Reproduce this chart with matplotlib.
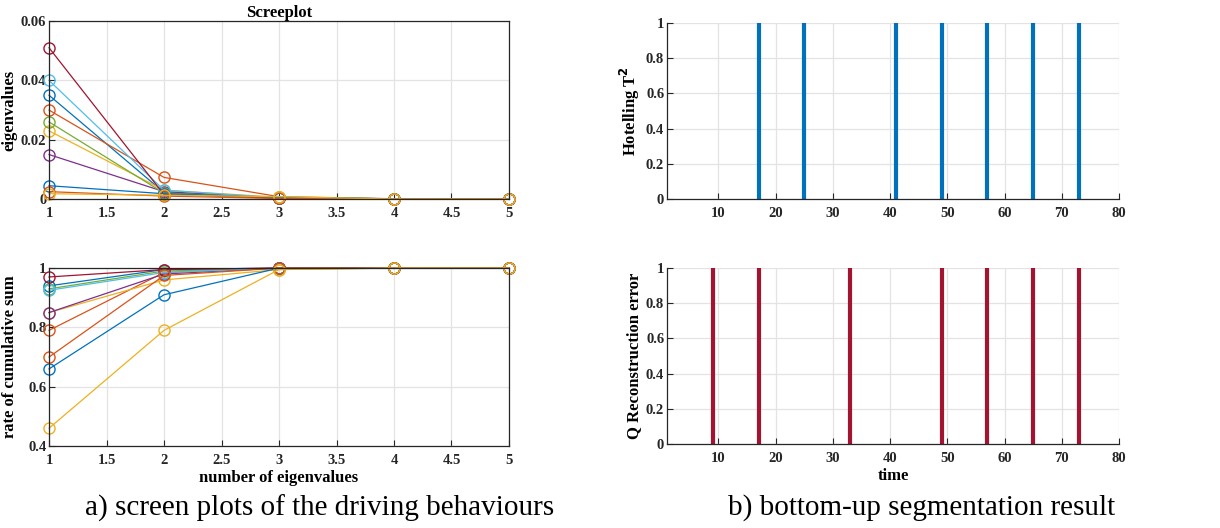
import numpy as np
import matplotlib
matplotlib.use('Agg')
import matplotlib.pyplot as plt
from matplotlib.ticker import FuncFormatter

# number of eigenvalues on the x axis of the scree plots
n_eig = [1, 2, 3, 4, 5]

# eigenvalues of each driving behaviour
eig_vals = [
    [0.0350, 0.0022, 0.0003, 0.00005, 0.0],
    [0.0300, 0.0073, 0.0008, 0.0001, 0.0],
    [0.0230, 0.0030, 0.0006, 0.0001, 0.0],
    [0.0150, 0.0025, 0.0004, 0.0001, 0.0],
    [0.0260, 0.0020, 0.0004, 0.0001, 0.0],
    [0.0400, 0.0030, 0.0004, 0.0001, 0.0],
    [0.0510, 0.0015, 0.0003, 0.0001, 0.0],
    [0.0045, 0.0018, 0.0005, 0.0001, 0.0],
    [0.0025, 0.0010, 0.0002, 0.0, 0.0],
    [0.0018, 0.0013, 0.0008, 0.0, 0.0],
]

# rate of cumulative sum for the same behaviours
cum_rate = [
    [0.94, 0.995, 1.0, 1.0, 1.0],
    [0.79, 0.985, 1.0, 1.0, 1.0],
    [0.85, 0.96, 0.995, 1.0, 1.0],
    [0.85, 0.98, 1.0, 1.0, 1.0],
    [0.93, 0.99, 1.0, 1.0, 1.0],
    [0.925, 0.985, 1.0, 1.0, 1.0],
    [0.97, 0.995, 1.0, 1.0, 1.0],
    [0.66, 0.91, 1.0, 1.0, 1.0],
    [0.70, 0.975, 1.0, 1.0, 1.0],
    [0.46, 0.79, 0.995, 1.0, 1.0],
]

# segmentation points
t2_times = [17, 25, 41, 49, 57, 65, 73]
t2_vals = [1, 1, 1, 1, 1, 1, 1]
q_times = [9, 17, 33, 49, 57, 65, 73]
q_vals = [1, 1, 1, 1, 1, 1, 1]

# matlab default colour order
mcolors = ['#0072BD', '#D95319', '#EDB120', '#7E2F8E', '#77AC30',
           '#4DBEEE', '#A2142F']

plt.rcParams['font.family'] = 'Liberation Serif'
plt.rcParams['font.weight'] = 'bold'
plt.rcParams['font.size'] = 12
axcol = '#262626'
fs = 12
tfs = 10.5

fig = plt.figure(figsize=(12.2, 5.28), dpi=100)

fmt = FuncFormatter(lambda v, p: '%g' % v)


def style(ax, box=True):
    ax.grid(True, color='#e3e3e3', linewidth=0.9)
    ax.set_axisbelow(True)
    ax.tick_params(direction='in', length=4, colors=axcol, labelsize=tfs)
    ax.tick_params(axis='y', pad=2)
    ax.tick_params(axis='x', pad=6)
    for s in ax.spines.values():
        s.set_color(axcol)
        s.set_linewidth(0.9)
    if not box:
        ax.spines['top'].set_visible(False)
        ax.spines['right'].set_visible(False)
    ax.yaxis.set_major_formatter(fmt)
    ax.xaxis.set_major_formatter(fmt)


# scree plot
ax1 = fig.add_axes([0.0402, 0.623, 0.377, 0.337])
for i, ev in enumerate(eig_vals):
    ax1.plot(n_eig, ev, '-o', color=mcolors[i % 7], lw=0.9, ms=8,
             mfc='none', mew=1.0, clip_on=False)
ax1.set_xlim(1, 5)
ax1.set_ylim(0, 0.06)
ax1.set_xticks(np.arange(1, 5.01, 0.5))
ax1.set_yticks([0, 0.02, 0.04, 0.06])
style(ax1)
ax1.set_title('Screeplot', fontsize=fs, fontweight='bold', pad=3)
ax1.set_ylabel('eigenvalues', fontsize=fs, fontweight='bold')
ax1.yaxis.set_label_coords(-0.068, 0.5)

# cumulative sum
ax2 = fig.add_axes([0.0402, 0.1553, 0.377, 0.337])
for i, cr in enumerate(cum_rate):
    ax2.plot(n_eig, cr, '-o', color=mcolors[i % 7], lw=0.9, ms=8,
             mfc='none', mew=1.0, clip_on=False)
ax2.set_xlim(1, 5)
ax2.set_ylim(0.4, 1)
ax2.set_xticks(np.arange(1, 5.01, 0.5))
ax2.set_yticks([0.4, 0.6, 0.8, 1])
style(ax2)
ax2.set_ylabel('rate of cumulative sum', fontsize=fs, fontweight='bold')
ax2.yaxis.set_label_coords(-0.068, 0.5)
ax2.set_xlabel('number of eigenvalues', fontsize=fs, fontweight='bold', labelpad=2)

# hotelling T2
ax3 = fig.add_axes([0.5467, 0.623, 0.3705, 0.3334])
ax3.vlines(t2_times, 0, t2_vals, color='#0072BD', lw=3)
ax3.set_xlim(1, 80)
ax3.set_ylim(0, 1)
ax3.set_xticks(range(10, 81, 10))
ax3.set_yticks(np.arange(0, 1.01, 0.2))
style(ax3, box=False)
ax3.set_ylabel('Hotelling T$^2$', fontsize=fs, fontweight='bold')
ax3.yaxis.set_label_coords(-0.055, 0.5)

# Q reconstruction error
ax4 = fig.add_axes([0.5467, 0.159, 0.3705, 0.3334])
ax4.vlines(q_times, 0, q_vals, color='#A2142F', lw=3)
ax4.set_xlim(1, 80)
ax4.set_ylim(0, 1)
ax4.set_xticks(range(10, 81, 10))
ax4.set_yticks(np.arange(0, 1.01, 0.2))
style(ax4, box=False)
ax4.set_ylabel('Q Reconstruction error', fontsize=fs, fontweight='bold')
ax4.yaxis.set_label_coords(-0.055, 0.5)
ax4.set_xlabel('time', fontsize=fs, fontweight='bold', labelpad=2)

fig.text(0.262, 0.038, 'a) screen plots of the driving behaviours',
         fontsize=21, fontweight='normal', ha='center', va='center')
fig.text(0.755, 0.038, 'b) bottom-up segmentation result',
         fontsize=21, fontweight='normal', ha='center', va='center')

fig.savefig('out.png', dpi=100)
